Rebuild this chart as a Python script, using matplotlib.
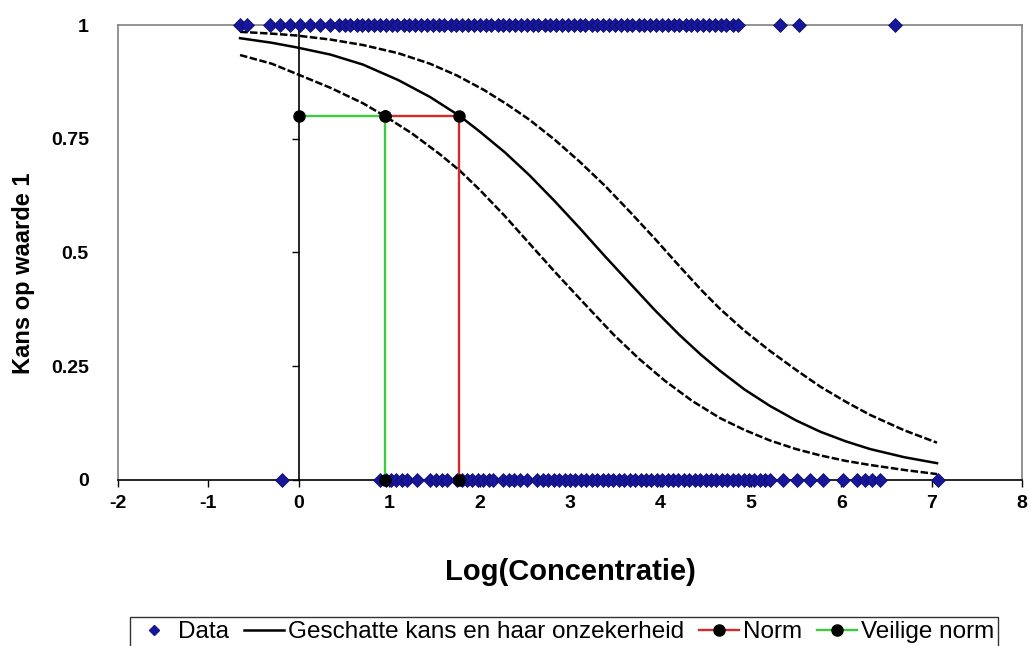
import matplotlib
import matplotlib.pyplot as plt
from matplotlib.lines import Line2D

plt.switch_backend('agg')
plt.rcParams['font.family'] = ['Liberation Sans', 'DejaVu Sans']
plt.rcParams['axes.unicode_minus'] = False

# observations: log concentration with outcome 1 (top row) and 0 (bottom row)
data_x_1 = [-0.65, -0.57, -0.32, -0.21, -0.10, 0.01, 0.12, 0.23, 0.35, 0.44,
            0.51, 0.57, 0.64, 0.70, 0.77, 0.83, 0.90, 0.96, 1.03, 1.09, 1.16,
            1.22, 1.29, 1.35, 1.42, 1.48, 1.55, 1.61, 1.68, 1.74, 1.81, 1.87,
            1.94, 2.00, 2.07, 2.13, 2.20, 2.26, 2.33, 2.39, 2.46, 2.52, 2.59,
            2.65, 2.72, 2.78, 2.85, 2.91, 2.98, 3.04, 3.11, 3.17, 3.24, 3.30,
            3.37, 3.43, 3.50, 3.56, 3.63, 3.69, 3.76, 3.82, 3.89, 3.95, 4.02,
            4.08, 4.15, 4.21, 4.28, 4.34, 4.41, 4.47, 4.54, 4.60, 4.67, 4.73,
            4.80, 4.86, 5.32, 5.53, 6.60]
data_x_0 = [-0.19, 0.90, 0.96, 1.02, 1.08, 1.14, 1.20, 1.31, 1.45, 1.52,
            1.58, 1.64, 1.75, 1.80, 1.86, 1.92, 1.98, 2.04, 2.10, 2.15, 2.26,
            2.32, 2.38, 2.45, 2.52, 2.64, 2.70, 2.76, 2.82, 2.88, 2.94, 3.00,
            3.06, 3.12, 3.18, 3.24, 3.30, 3.36, 3.42, 3.48, 3.54, 3.60, 3.66,
            3.72, 3.78, 3.84, 3.90, 3.96, 4.02, 4.08, 4.14, 4.20, 4.26, 4.32,
            4.38, 4.44, 4.50, 4.56, 4.62, 4.68, 4.74, 4.80, 4.86, 4.92, 4.98,
            5.04, 5.10, 5.16, 5.21, 5.36, 5.51, 5.66, 5.80, 6.02, 6.18, 6.26,
            6.34, 6.43, 7.07]

# estimated probability with its uncertainty band
mid_x = [-0.65, -0.30, -0.03, 0.35, 0.71, 1.10, 1.45, 1.78, 2.00, 2.28, 2.55,
         2.83, 3.11, 3.39, 3.66, 3.94, 4.21, 4.45, 4.66, 4.93, 5.21, 5.50,
         5.77, 6.05, 6.32, 6.70, 7.06]
mid_p = [0.971, 0.961, 0.951, 0.935, 0.913, 0.879, 0.842, 0.800, 0.766, 0.720,
         0.670, 0.613, 0.553, 0.491, 0.433, 0.373, 0.319, 0.275, 0.240, 0.199,
         0.163, 0.131, 0.106, 0.085, 0.068, 0.050, 0.037]
upper_x = [-0.65, -0.30, -0.03, 0.35, 0.71, 1.10, 1.45, 1.75, 2.05, 2.30,
           2.55, 2.83, 3.11, 3.39, 3.66, 3.94, 4.21, 4.45, 4.66, 4.93, 5.21,
           5.50, 5.77, 6.05, 6.32, 6.70, 7.06]
upper_p = [0.985, 0.981, 0.977, 0.968, 0.956, 0.938, 0.915, 0.889, 0.857,
           0.826, 0.792, 0.748, 0.699, 0.646, 0.590, 0.530, 0.470, 0.418,
           0.376, 0.328, 0.284, 0.242, 0.205, 0.172, 0.143, 0.109, 0.082]
lower_x = [-0.65, -0.30, -0.03, 0.35, 0.71, 0.95, 1.25, 1.56, 1.78, 2.00,
           2.28, 2.55, 2.83, 3.11, 3.48, 3.76, 4.05, 4.35, 4.66, 4.93, 5.21,
           5.50, 5.77, 6.05, 6.32, 6.70, 7.06]
lower_p = [0.934, 0.915, 0.893, 0.862, 0.828, 0.800, 0.762, 0.716, 0.680,
           0.638, 0.580, 0.520, 0.458, 0.398, 0.320, 0.267, 0.218, 0.174,
           0.136, 0.110, 0.087, 0.068, 0.054, 0.042, 0.033, 0.022, 0.013]

# norm and safe norm at probability 0.8
norm_x = [0.95, 1.77, 1.77]
norm_y = [0.8, 0.8, 0.0]
safe_x = [0.0, 0.95, 0.95]
safe_y = [0.8, 0.8, 0.0]

xticks = [-2, -1, 0, 1, 2, 3, 4, 5, 6, 7, 8]
yticks = [0, 0.25, 0.5, 0.75, 1]
ytick_labels = ['0', '0.25', '0.5', '0.75', '1']

blue = '#17179c'
red = '#d02c2c'
green = '#3ccc3c'

fig = plt.figure(figsize=(10.31, 6.46), dpi=100)
ax = fig.add_axes([118 / 1031, 166 / 646, 904 / 1031, 455 / 646])

ax.plot(mid_x, mid_p, color='black', lw=1.8, zorder=3)
ax.plot(upper_x, upper_p, color='black', lw=1.8, ls=(0, (3, 1)), zorder=3)
ax.plot(lower_x, lower_p, color='black', lw=1.8, ls=(0, (3, 1)), zorder=3)

ax.plot(data_x_1, [1] * len(data_x_1), ls='none', marker='D', ms=7.5,
        color=blue, mec='#0a0a60', mew=0.5, zorder=5, clip_on=False)
ax.plot(data_x_0, [0] * len(data_x_0), ls='none', marker='D', ms=7.5,
        color=blue, mec='#0a0a60', mew=0.5, zorder=5, clip_on=False)

ax.plot(norm_x, norm_y, color=red, lw=1.7, marker='o', ms=8,
        mfc='black', mec='black', zorder=6, clip_on=False)
ax.plot(safe_x, safe_y, color=green, lw=1.7, marker='o', ms=8,
        mfc='black', mec='black', zorder=6, clip_on=False)

ax.set_xlim(-2, 8)
ax.set_ylim(0, 1)
ax.set_xticks(xticks)
ax.set_yticks(yticks)
ax.set_yticklabels(ytick_labels)

for s in ['left', 'right', 'top']:
    ax.spines[s].set_color('#808080')
    ax.spines[s].set_linewidth(1.2)
ax.spines['bottom'].set_color('black')
ax.spines['bottom'].set_linewidth(1.2)

ax.tick_params(axis='y', length=0, pad=21, labelsize=14)
ax.tick_params(axis='x', length=5, width=1, direction='out', pad=6, labelsize=14)
for lab in ax.get_xticklabels() + ax.get_yticklabels():
    lab.set_fontweight('bold')

# value axis crossing at x = 0
sec = ax.secondary_yaxis(0.2)
sec.spines['left'].set_color('black')
sec.spines['left'].set_linewidth(1.2)
sec.set_yticks(yticks)
sec.tick_params(axis='y', length=5, width=1, direction='out', labelleft=False)

ax.set_xlabel('Log(Concentratie)', fontsize=21, fontweight='bold')
ax.xaxis.set_label_coords(0.5, -0.171)
ax.set_ylabel('Kans op waarde 1', fontsize=17, fontweight='bold')
ax.yaxis.set_label_coords(-0.092, 0.455)

handles = [
    Line2D([], [], ls='none', marker='D', ms=5.5, color=blue),
    Line2D([], [], color='black', lw=1.8),
    Line2D([], [], color=red, lw=1.7, marker='o', ms=8, mfc='black', mec='black'),
    Line2D([], [], color=green, lw=1.7, marker='o', ms=8, mfc='black', mec='black'),
]
labels = ['Data', 'Geschatte kans en haar onzekerheid', 'Norm', 'Veilige norm']
leg = fig.legend(handles, labels, loc='center', bbox_to_anchor=(564 / 1031, 14 / 646),
                 ncol=4, frameon=True, fancybox=False, fontsize=17.5,
                 handlelength=1.65, handletextpad=0.17, columnspacing=0.6,
                 borderpad=0.15, borderaxespad=0)
leg.get_frame().set_edgecolor('black')
leg.get_frame().set_linewidth(1.0)

plt.savefig('out.png', dpi=100)
plt.close()
